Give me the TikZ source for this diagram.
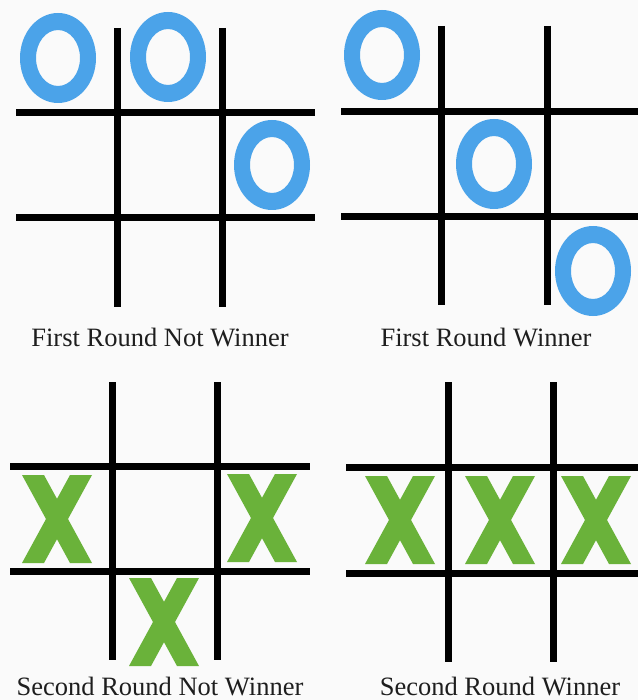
\documentclass[tikz,border=0pt]{standalone}
\usepackage{fontspec}
\setmainfont{Liberation Serif}
\definecolor{oblue}{RGB}{75,163,233}
\definecolor{xgreen}{RGB}{106,178,58}
\definecolor{bg}{RGB}{250,250,250}
\definecolor{txt}{RGB}{30,30,30}
\tikzset{
  gridline/.style={line width=7pt, black, line cap=butt},
  caption/.style={anchor=base, inner sep=0pt, text=txt, font=\fontsize{26.5}{30}\selectfont},
  oring/.pic={\fill[oblue, even odd rule] (0,0) ellipse [x radius=38pt, y radius=45pt]
                                          (0,0) ellipse [x radius=22pt, y radius=28pt];},
  xmark/.pic={\fill[xgreen] (-35,-44) -- (-13,-44) -- (35,44) -- (13,44) -- cycle;
              \fill[xgreen] (35,-44) -- (13,-44) -- (-35,44) -- (-13,44) -- cycle;}
}
\begin{document}
\begin{tikzpicture}[x=1pt,y=-1pt]
\fill[bg] (0,0) rectangle (638,700);
\useasboundingbox (0,0) rectangle (638,700);

% Panel 1: First Round Not Winner
\draw[gridline] (117,28) -- (117,307);
\draw[gridline] (222,28) -- (222,307);
\draw[gridline] (16,113) -- (315,113);
\draw[gridline] (16,218) -- (315,218);
\pic at (58,58) {oring};
\pic at (168,57) {oring};
\pic at (272,165) {oring};
\node[caption] (c1) at (160,346) {First Round Not Winner};

% Panel 2: First Round Winner
\draw[gridline] (441,26) -- (441,305);
\draw[gridline] (547,26) -- (547,305);
\draw[gridline] (341,112) -- (638,112);
\draw[gridline] (341,217) -- (638,217);
\pic at (382,55) {oring};
\pic at (494,164) {oring};
\pic at (593,271) {oring};
\node[caption] (c2) at (486,346) {First Round Winner};

% Panel 3: Second Round Not Winner
\draw[gridline] (112,382) -- (112,660);
\draw[gridline] (217,382) -- (217,660);
\draw[gridline] (10,466) -- (310,466);
\draw[gridline] (10,571) -- (310,571);
\pic at (57,519) {xmark};
\pic at (262,518) {xmark};
\pic at (164,622) {xmark};
\node[caption] (c3) at (160,695) {Second Round Not Winner};

% Panel 4: Second Round Winner
\draw[gridline] (448,382) -- (448,662);
\draw[gridline] (553,382) -- (553,662);
\draw[gridline] (346,467) -- (638,467);
\draw[gridline] (346,573) -- (638,573);
\pic at (400,520) {xmark};
\pic at (500,520) {xmark};
\pic at (596,520) {xmark};
\node[caption] (c4) at (500,695) {Second Round Winner};
\end{tikzpicture}
\end{document}
